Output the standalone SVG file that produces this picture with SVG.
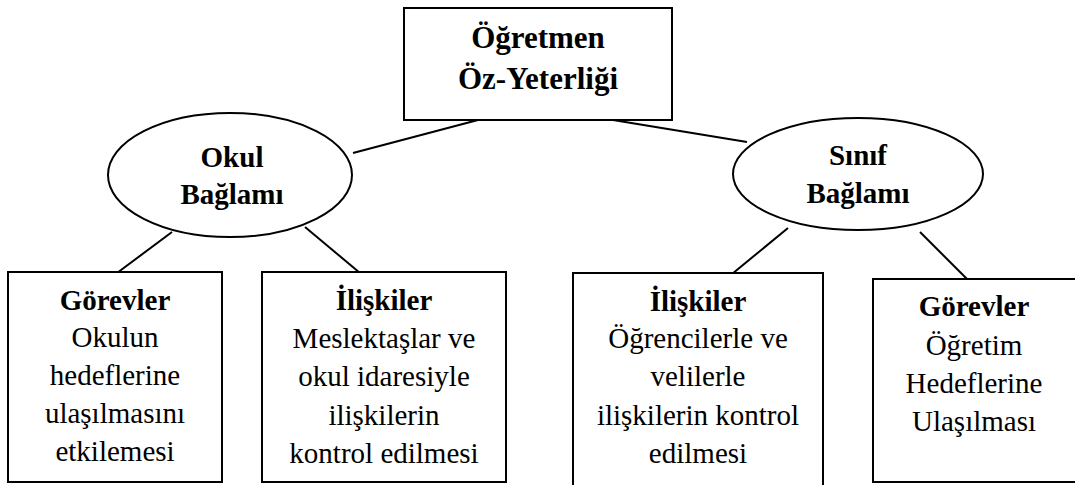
<svg xmlns="http://www.w3.org/2000/svg" width="1075" height="485" viewBox="0 0 1075 485" font-family="'Liberation Serif', 'Times New Roman', Times, serif">
  <style>
    .shape { fill: #ffffff; stroke: #000000; stroke-width: 2; }
    .link { stroke: #000000; stroke-width: 2; fill: none; }
    text { fill: #000000; text-anchor: middle; }
    .title { font-size: 31px; font-weight: bold; }
    .head { font-size: 29px; font-weight: bold; }
    .body { font-size: 29px; }
  </style>
  <rect width="1075" height="485" fill="#ffffff"/>

  <!-- connectors -->
  <g id="connectors">
    <line class="link" x1="478" y1="120" x2="353" y2="153"/>
    <line class="link" x1="613" y1="120" x2="747" y2="142"/>
    <line class="link" x1="172" y1="232" x2="117" y2="273"/>
    <line class="link" x1="305" y1="227" x2="360" y2="273"/>
    <line class="link" x1="788" y1="228" x2="732" y2="274"/>
    <line class="link" x1="920" y1="232" x2="967" y2="279"/>
  </g>

  <!-- root -->
  <g id="ogretmen-oz-yeterligi">
    <rect class="shape" x="404" y="8" width="268" height="112"/>
    <text class="title" x="538" y="48">Öğretmen</text>
    <text class="title" x="538" y="89">Öz-Yeterliği</text>
  </g>

  <!-- contexts -->
  <g id="okul-baglami">
    <ellipse class="shape" cx="230" cy="175" rx="122" ry="62"/>
    <text class="head" x="232" y="167">Okul</text>
    <text class="head" x="232" y="204">Bağlamı</text>
  </g>
  <g id="sinif-baglami">
    <ellipse class="shape" cx="858" cy="174" rx="125" ry="56"/>
    <text class="head" x="858" y="165">Sınıf</text>
    <text class="head" x="858" y="203">Bağlamı</text>
  </g>

  <!-- leaves -->
  <g id="okul-gorevler">
    <rect class="shape" x="8" y="272" width="214" height="210"/>
    <text class="head" x="115" y="310">Görevler</text>
    <text class="body" x="115" y="347">Okulun</text>
    <text class="body" x="115" y="385">hedeflerine</text>
    <text class="body" x="115" y="423">ulaşılmasını</text>
    <text class="body" x="115" y="461">etkilemesi</text>
  </g>
  <g id="okul-iliskiler">
    <rect class="shape" x="262" y="272" width="244" height="210"/>
    <text class="head" x="384" y="310">İlişkiler</text>
    <text class="body" x="384" y="348">Meslektaşlar ve</text>
    <text class="body" x="384" y="386">okul idaresiyle</text>
    <text class="body" x="384" y="425">ilişkilerin</text>
    <text class="body" x="384" y="463">kontrol edilmesi</text>
  </g>
  <g id="sinif-iliskiler">
    <rect class="shape" x="573" y="273" width="250" height="230"/>
    <text class="head" x="698" y="311">İlişkiler</text>
    <text class="body" x="698" y="348">Öğrencilerle ve</text>
    <text class="body" x="698" y="386">velilerle</text>
    <text class="body" x="698" y="425">ilişkilerin kontrol</text>
    <text class="body" x="698" y="463">edilmesi</text>
  </g>
  <g id="sinif-gorevler">
    <rect class="shape" x="873" y="279" width="220" height="203"/>
    <text class="head" x="974" y="316">Görevler</text>
    <text class="body" x="974" y="355">Öğretim</text>
    <text class="body" x="974" y="393">Hedeflerine</text>
    <text class="body" x="974" y="431">Ulaşılması</text>
  </g>
</svg>
